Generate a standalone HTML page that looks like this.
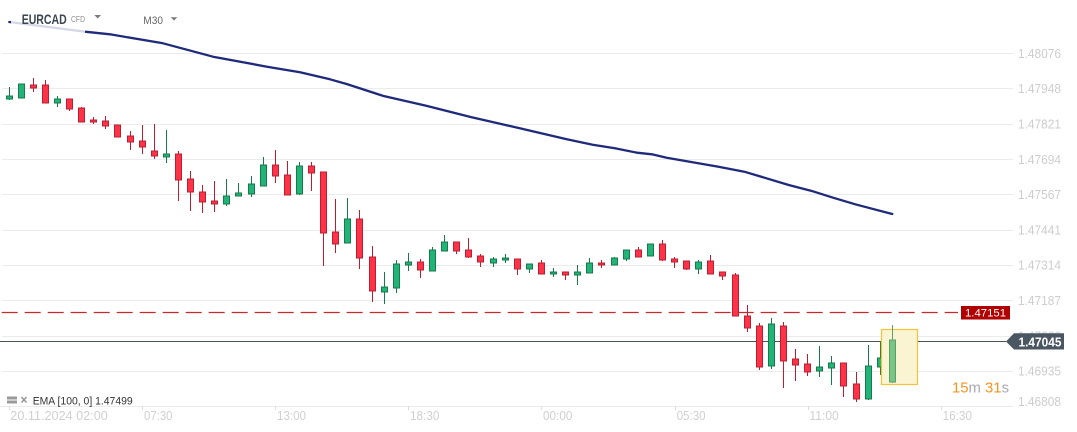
<!DOCTYPE html>
<html>
<head>
<meta charset="utf-8">
<style>
  html,body{margin:0;padding:0;background:#fff;}
  body{width:1077px;height:432px;overflow:hidden;}
  svg{display:block;font-family:"Liberation Sans",sans-serif;}
  .grid{stroke:#ebebeb;stroke-width:1;}
  .yl{fill:#cdcdcd;font-size:12.5px;}
  .xl{fill:#d0d0d0;font-size:13px;}
  .r line{stroke:#b81f33;stroke-width:1;}
  .r rect{fill:#ff3347;stroke:#b81f33;stroke-width:1;}
  .g line{stroke:#177a4a;stroke-width:1;}
  .g rect{fill:#22b378;stroke:#177a4a;stroke-width:1;}
</style>
</head>
<body>
<svg width="1077" height="432" viewBox="0 0 1077 432" xmlns="http://www.w3.org/2000/svg">
  <rect x="0" y="0" width="1077" height="432" fill="#fff"/>

  <!-- grid -->
  <g class="grid">
    <line x1="2" y1="53.5" x2="1013" y2="53.5"/>
    <line x1="2" y1="88.5" x2="1013" y2="88.5"/>
    <line x1="2" y1="124.5" x2="1013" y2="124.5"/>
    <line x1="2" y1="159.5" x2="1013" y2="159.5"/>
    <line x1="2" y1="194.5" x2="1013" y2="194.5"/>
    <line x1="2" y1="230.5" x2="1013" y2="230.5"/>
    <line x1="2" y1="265.5" x2="1013" y2="265.5"/>
    <line x1="2" y1="300.5" x2="1013" y2="300.5"/>
    <line x1="2" y1="336.5" x2="1013" y2="336.5"/>
    <line x1="2" y1="371.5" x2="1013" y2="371.5"/>
    <line x1="0" y1="406.5" x2="1013" y2="406.5"/>
  </g>

  <!-- y labels -->
  <text class="yl" x="1018" y="58" textLength="43" lengthAdjust="spacingAndGlyphs">1.48076</text>
  <text class="yl" x="1018" y="93" textLength="43" lengthAdjust="spacingAndGlyphs">1.47948</text>
  <text class="yl" x="1018" y="128.5" textLength="43" lengthAdjust="spacingAndGlyphs">1.47821</text>
  <text class="yl" x="1018" y="164" textLength="43" lengthAdjust="spacingAndGlyphs">1.47694</text>
  <text class="yl" x="1018" y="199" textLength="43" lengthAdjust="spacingAndGlyphs">1.47567</text>
  <text class="yl" x="1018" y="234.5" textLength="43" lengthAdjust="spacingAndGlyphs">1.47441</text>
  <text class="yl" x="1018" y="269.5" textLength="43" lengthAdjust="spacingAndGlyphs">1.47314</text>
  <text class="yl" x="1018" y="305" textLength="43" lengthAdjust="spacingAndGlyphs">1.47187</text>
  <text class="yl" x="1018" y="340.5" textLength="43" lengthAdjust="spacingAndGlyphs">1.47060</text>
  <text class="yl" x="1018" y="375.5" textLength="43" lengthAdjust="spacingAndGlyphs">1.46935</text>
  <text class="yl" x="1018" y="406" textLength="43" lengthAdjust="spacingAndGlyphs">1.46808</text>

  <!-- x ticks -->
  <g stroke="#dddddd" stroke-width="1">
    <line x1="9.5" y1="406" x2="9.5" y2="410"/>
    <line x1="142.5" y1="406" x2="142.5" y2="410"/>
    <line x1="275.5" y1="406" x2="275.5" y2="410"/>
    <line x1="408.5" y1="406" x2="408.5" y2="410"/>
    <line x1="541.5" y1="406" x2="541.5" y2="410"/>
    <line x1="675.5" y1="406" x2="675.5" y2="410"/>
    <line x1="808.5" y1="406" x2="808.5" y2="410"/>
    <line x1="941.5" y1="406" x2="941.5" y2="410"/>
  </g>
  <text class="xl" x="10.3" y="420" textLength="97.5" lengthAdjust="spacingAndGlyphs">20.11.2024  02:00</text>
  <text class="xl" x="144" y="420" textLength="28.5" lengthAdjust="spacingAndGlyphs">07:30</text>
  <text class="xl" x="277" y="420" textLength="29" lengthAdjust="spacingAndGlyphs">13:00</text>
  <text class="xl" x="410" y="420" textLength="29.4" lengthAdjust="spacingAndGlyphs">18:30</text>
  <text class="xl" x="543" y="420" textLength="29.4" lengthAdjust="spacingAndGlyphs">00:00</text>
  <text class="xl" x="676.6" y="420" textLength="29" lengthAdjust="spacingAndGlyphs">05:30</text>
  <text class="xl" x="809.4" y="420" textLength="29.4" lengthAdjust="spacingAndGlyphs">11:00</text>
  <text class="xl" x="942.6" y="420" textLength="29.4" lengthAdjust="spacingAndGlyphs">16:30</text>

  <!-- dashed red level -->
  <line x1="1.7" y1="312.5" x2="958" y2="312.5" stroke="#c62a2a" stroke-width="1.3" stroke-dasharray="16 7"/>

  <!-- current price line -->
  <line x1="0" y1="341.5" x2="1006" y2="341.5" stroke="#4b5359" stroke-width="1"/>

  <!-- EMA line -->
  <polyline fill="none" stroke="#1f2a7a" stroke-width="2.3" stroke-linejoin="round" stroke-linecap="round"
    points="9.3,22 85,31.7 110,34.3 163,43.3 213,56.7 267,66.7 300,72.3 330,79.3 346.6,84 383.6,96 426.2,105.7 470.6,117 518.7,128 566.8,139.3 592.7,144.7 614.9,148.3 637,152.7 651.9,154.3 666.7,157.7 718.5,166.7 744.3,171.7 766.5,178.3 788.7,185 810.9,190.7 833.1,197.7 855.3,204.3 892.3,214"/>

  <!-- candles -->
  <g class="g"><line x1="9.5" y1="87" x2="9.5" y2="100"/><rect x="6.5" y="96" width="6" height="3"/></g>
  <g class="g"><line x1="21.5" y1="84" x2="21.5" y2="98"/><rect x="18.5" y="84" width="6" height="14"/></g>
  <g class="r"><line x1="33.5" y1="78" x2="33.5" y2="92"/><rect x="30.5" y="85" width="6" height="3"/></g>
  <g class="r"><line x1="45.5" y1="80" x2="45.5" y2="103"/><rect x="42.5" y="85" width="6" height="18"/></g>
  <g class="g"><line x1="57.5" y1="96" x2="57.5" y2="107"/><rect x="54.5" y="99" width="6" height="4"/></g>
  <g class="r"><line x1="69.5" y1="99" x2="69.5" y2="111"/><rect x="66.5" y="99" width="6" height="10"/></g>
  <g class="r"><line x1="81.5" y1="107" x2="81.5" y2="122"/><rect x="78.5" y="108" width="6" height="14"/></g>
  <g class="r"><line x1="93.5" y1="117" x2="93.5" y2="124"/><rect x="90.5" y="120" width="6" height="2"/></g>
  <g class="r"><line x1="105.5" y1="116" x2="105.5" y2="129"/><rect x="102.5" y="121" width="6" height="5"/></g>
  <g class="r"><line x1="117.5" y1="125" x2="117.5" y2="137"/><rect x="114.5" y="125" width="6" height="12"/></g>
  <g class="r"><line x1="130.5" y1="131" x2="130.5" y2="150"/><rect x="127.5" y="136" width="6" height="6"/></g>
  <g class="r"><line x1="142.5" y1="125" x2="142.5" y2="154"/><rect x="139.5" y="141" width="6" height="6"/></g>
  <g class="r"><line x1="154.5" y1="124" x2="154.5" y2="159"/><rect x="151.5" y="151" width="6" height="5"/></g>
  <g class="g"><line x1="166.5" y1="130" x2="166.5" y2="163"/><rect x="163.5" y="154" width="6" height="3"/></g>
  <g class="r"><line x1="178.5" y1="151" x2="178.5" y2="201"/><rect x="175.5" y="154" width="6" height="26"/></g>
  <g class="r"><line x1="190.5" y1="171" x2="190.5" y2="211"/><rect x="187.5" y="179" width="6" height="13"/></g>
  <g class="r"><line x1="202.5" y1="185" x2="202.5" y2="213"/><rect x="199.5" y="192" width="6" height="10"/></g>
  <g class="r"><line x1="214.5" y1="181" x2="214.5" y2="212"/><rect x="211.5" y="201" width="6" height="3"/></g>
  <g class="g"><line x1="226.5" y1="179" x2="226.5" y2="206"/><rect x="223.5" y="196" width="6" height="8"/></g>
  <g class="g"><line x1="238.5" y1="183" x2="238.5" y2="196"/><rect x="235.5" y="193" width="6" height="3"/></g>
  <g class="g"><line x1="251.5" y1="176" x2="251.5" y2="197"/><rect x="248.5" y="184" width="6" height="10"/></g>
  <g class="g"><line x1="263.5" y1="157" x2="263.5" y2="186"/><rect x="260.5" y="165" width="6" height="21"/></g>
  <g class="r"><line x1="275.5" y1="150" x2="275.5" y2="183"/><rect x="272.5" y="165" width="6" height="11"/></g>
  <g class="r"><line x1="287.5" y1="161" x2="287.5" y2="195"/><rect x="284.5" y="175" width="6" height="20"/></g>
  <g class="g"><line x1="299.5" y1="162" x2="299.5" y2="195"/><rect x="296.5" y="166" width="6" height="28"/></g>
  <g class="r"><line x1="311.5" y1="162" x2="311.5" y2="191"/><rect x="308.5" y="166" width="6" height="7"/></g>
  <g class="r"><line x1="323.5" y1="172" x2="323.5" y2="266"/><rect x="320.5" y="172" width="6" height="61"/></g>
  <g class="r"><line x1="335.5" y1="199" x2="335.5" y2="253"/><rect x="332.5" y="232" width="6" height="12"/></g>
  <g class="g"><line x1="347.5" y1="198" x2="347.5" y2="243"/><rect x="344.5" y="219" width="6" height="24"/></g>
  <g class="r"><line x1="359.5" y1="210" x2="359.5" y2="269"/><rect x="356.5" y="219" width="6" height="39"/></g>
  <g class="r"><line x1="372.5" y1="246" x2="372.5" y2="302"/><rect x="369.5" y="257" width="6" height="34"/></g>
  <g class="g"><line x1="384.5" y1="272" x2="384.5" y2="304"/><rect x="381.5" y="287" width="6" height="5"/></g>
  <g class="g"><line x1="396.5" y1="260" x2="396.5" y2="293"/><rect x="393.5" y="264" width="6" height="24"/></g>
  <g class="g"><line x1="408.5" y1="253" x2="408.5" y2="271"/><rect x="405.5" y="262" width="6" height="3"/></g>
  <g class="r"><line x1="420.5" y1="259" x2="420.5" y2="278"/><rect x="417.5" y="262" width="6" height="8"/></g>
  <g class="g"><line x1="432.5" y1="247" x2="432.5" y2="271"/><rect x="429.5" y="250" width="6" height="21"/></g>
  <g class="g"><line x1="444.5" y1="235" x2="444.5" y2="251"/><rect x="441.5" y="242" width="6" height="9"/></g>
  <g class="r"><line x1="456.5" y1="242" x2="456.5" y2="254"/><rect x="453.5" y="242" width="6" height="9"/></g>
  <g class="r"><line x1="468.5" y1="238" x2="468.5" y2="258"/><rect x="465.5" y="250" width="6" height="7"/></g>
  <g class="r"><line x1="480.5" y1="254" x2="480.5" y2="267"/><rect x="477.5" y="256" width="6" height="6"/></g>
  <g class="g"><line x1="493.5" y1="257" x2="493.5" y2="267"/><rect x="490.5" y="259" width="6" height="4"/></g>
  <g class="g"><line x1="505.5" y1="254" x2="505.5" y2="263"/><rect x="502.5" y="258" width="6" height="2"/></g>
  <g class="r"><line x1="517.5" y1="259" x2="517.5" y2="275"/><rect x="514.5" y="259" width="6" height="10"/></g>
  <g class="g"><line x1="529.5" y1="264" x2="529.5" y2="273"/><rect x="526.5" y="264" width="6" height="5"/></g>
  <g class="r"><line x1="541.5" y1="260" x2="541.5" y2="274"/><rect x="538.5" y="263" width="6" height="11"/></g>
  <g class="g"><line x1="553.5" y1="268" x2="553.5" y2="277"/><rect x="550.5" y="272" width="6" height="2"/></g>
  <g class="r"><line x1="565.5" y1="272" x2="565.5" y2="280"/><rect x="562.5" y="272" width="6" height="3"/></g>
  <g class="g"><line x1="577.5" y1="265" x2="577.5" y2="285"/><rect x="574.5" y="272" width="6" height="3"/></g>
  <g class="g"><line x1="589.5" y1="258" x2="589.5" y2="273"/><rect x="586.5" y="263" width="6" height="10"/></g>
  <g class="r"><line x1="601.5" y1="260" x2="601.5" y2="268"/><rect x="598.5" y="263" width="6" height="2"/></g>
  <g class="g"><line x1="614.5" y1="257" x2="614.5" y2="265"/><rect x="611.5" y="258" width="6" height="7"/></g>
  <g class="g"><line x1="626.5" y1="250" x2="626.5" y2="261"/><rect x="623.5" y="250" width="6" height="9"/></g>
  <g class="r"><line x1="638.5" y1="247" x2="638.5" y2="257"/><rect x="635.5" y="250" width="6" height="7"/></g>
  <g class="g"><line x1="650.5" y1="244" x2="650.5" y2="256"/><rect x="647.5" y="244" width="6" height="12"/></g>
  <g class="r"><line x1="662.5" y1="240" x2="662.5" y2="261"/><rect x="659.5" y="244" width="6" height="16"/></g>
  <g class="r"><line x1="674.5" y1="257" x2="674.5" y2="268"/><rect x="671.5" y="259" width="6" height="3"/></g>
  <g class="r"><line x1="686.5" y1="261" x2="686.5" y2="270"/><rect x="683.5" y="261" width="6" height="8"/></g>
  <g class="g"><line x1="698.5" y1="260" x2="698.5" y2="274"/><rect x="695.5" y="262" width="6" height="7"/></g>
  <g class="r"><line x1="710.5" y1="255" x2="710.5" y2="274"/><rect x="707.5" y="261" width="6" height="13"/></g>
  <g class="r"><line x1="722.5" y1="272" x2="722.5" y2="280"/><rect x="719.5" y="272" width="6" height="4"/></g>
  <g class="r"><line x1="735.5" y1="273" x2="735.5" y2="316"/><rect x="732.5" y="275" width="6" height="41"/></g>
  <g class="r"><line x1="747.5" y1="305" x2="747.5" y2="332"/><rect x="744.5" y="316" width="6" height="12"/></g>
  <g class="r"><line x1="759.5" y1="323" x2="759.5" y2="370"/><rect x="756.5" y="326" width="6" height="41"/></g>
  <g class="g"><line x1="771.5" y1="318" x2="771.5" y2="369"/><rect x="768.5" y="324" width="6" height="42"/></g>
  <g class="r"><line x1="783.5" y1="322" x2="783.5" y2="388"/><rect x="780.5" y="326" width="6" height="35"/></g>
  <g class="r"><line x1="795.5" y1="349" x2="795.5" y2="381"/><rect x="792.5" y="359" width="6" height="6"/></g>
  <g class="r"><line x1="807.5" y1="354" x2="807.5" y2="376"/><rect x="804.5" y="364" width="6" height="8"/></g>
  <g class="g"><line x1="819.5" y1="346" x2="819.5" y2="377"/><rect x="816.5" y="367" width="6" height="4"/></g>
  <g class="g"><line x1="831.5" y1="356" x2="831.5" y2="385"/><rect x="828.5" y="363" width="6" height="5"/></g>
  <g class="r"><line x1="843.5" y1="363" x2="843.5" y2="397"/><rect x="840.5" y="363" width="6" height="23"/></g>
  <g class="r"><line x1="856.5" y1="372" x2="856.5" y2="402"/><rect x="853.5" y="384" width="6" height="15"/></g>
  <g class="g"><line x1="868.5" y1="345" x2="868.5" y2="400"/><rect x="865.5" y="366" width="6" height="33"/></g>
  <g class="g"><line x1="880.5" y1="341" x2="880.5" y2="375"/><rect x="877.5" y="358" width="6" height="9"/></g>

  <!-- highlight box -->
  <rect x="881.5" y="329.5" width="36" height="55" fill="#faf4d2" stroke="#f2c437" stroke-width="1.2"/>
  <!-- current candle -->
  <line x1="892.5" y1="325" x2="892.5" y2="383" stroke="#5a9e6a" stroke-width="1"/>
  <rect x="889.5" y="340" width="6" height="42" fill="#79c584" stroke="#5a9e6a" stroke-width="1"/>

  <!-- countdown -->
  <text x="952" y="392.5" font-size="15" textLength="57" lengthAdjust="spacingAndGlyphs"><tspan fill="#f7931e">15</tspan><tspan fill="#a9aab0">m</tspan><tspan fill="#f7931e"> 31</tspan><tspan fill="#a9aab0">s</tspan></text>

  <!-- red price label -->
  <rect x="961" y="306" width="49" height="13.5" fill="#b00000"/>
  <text x="985.5" y="316.5" font-size="11" fill="#ffffff" text-anchor="middle" textLength="41" lengthAdjust="spacingAndGlyphs">1.47151</text>

  <!-- current price label -->
  <polygon points="1006,341.5 1014,333.3 1064,333.3 1064,349.5 1014,349.5" fill="#4a5661"/>
  <text x="1040" y="346.3" font-size="13" font-weight="bold" fill="#ffffff" text-anchor="middle" textLength="43" lengthAdjust="spacingAndGlyphs">1.47045</text>

  <!-- header overlay -->
  <rect x="11" y="0" width="74" height="40" fill="#ffffff" opacity="0.82"/>
  <text x="21.7" y="24" font-size="14" font-weight="bold" fill="#3a4650" textLength="45" lengthAdjust="spacingAndGlyphs">EURCAD</text>
  <text x="71" y="22" font-size="8" fill="#8a8a8a" textLength="14" lengthAdjust="spacingAndGlyphs">CFD</text>
  <polygon points="94.3,15 101,15 97.7,18.5" fill="#7a7a7a"/>
  <text x="143.3" y="24" font-size="11" fill="#666666" textLength="19.7" lengthAdjust="spacingAndGlyphs">M30</text>
  <polygon points="170.7,17.3 177.3,17.3 174,20.6" fill="#7a7a7a"/>

  <!-- legend -->
  <rect x="7" y="396.5" width="10" height="7" fill="#9a9a9a"/>
  <line x1="7" y1="400" x2="17" y2="400" stroke="#ffffff" stroke-width="1"/>
  <g stroke="#9a9a9a" stroke-width="1.6">
    <line x1="21.5" y1="397" x2="26.5" y2="402.5"/>
    <line x1="26.5" y1="397" x2="21.5" y2="402.5"/>
  </g>
  <text x="32.7" y="404.5" font-size="11" fill="#333333" textLength="100" lengthAdjust="spacingAndGlyphs">EMA [100,  0] 1.47499</text>
</svg>
</body>
</html>
